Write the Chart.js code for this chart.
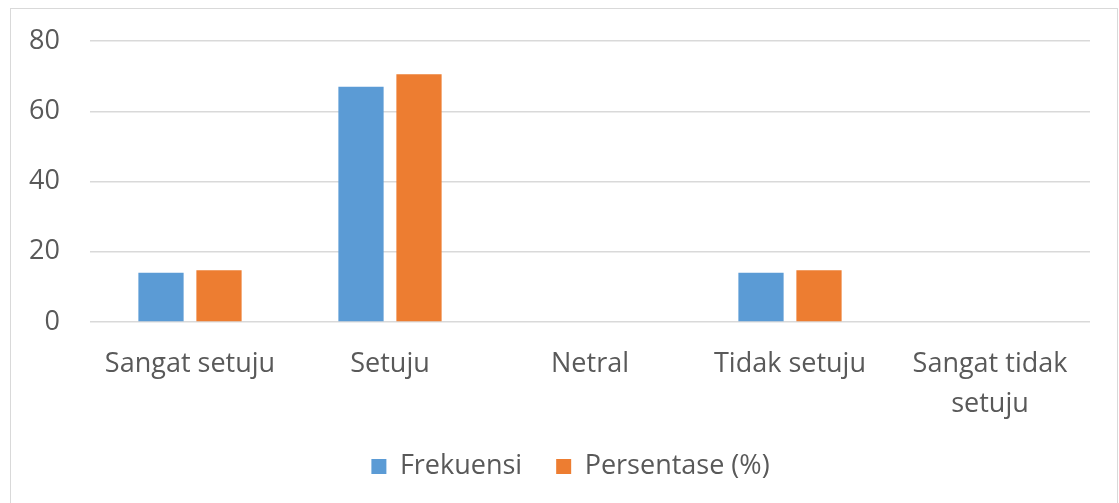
<!DOCTYPE html>
<html>
<head>
<meta charset="utf-8">
<script src="https://cdn.jsdelivr.net/npm/chart.js@4/dist/chart.umd.min.js"></script>
<style>
    html, body { margin: 0; padding: 0; background: #fff; }
    #wrap { position: relative; width: 1119px; height: 503px; overflow: hidden; }
    #frame { position: absolute; left: 10px; top: 8px; width: 1106px; height: 520px; border: 1.5px solid #d9d9d9; }
    #chart { position: absolute; left: 0; top: 0; }
</style>
</head>
<body>
<div id="wrap">
    <div id="frame"></div>
    <canvas id="chart" width="1119" height="503"></canvas>
</div>
<script>
// Data
const categories = ['Sangat setuju', 'Setuju', 'Netral', 'Tidak setuju', ['Sangat tidak', 'setuju']];
const frekuensi = [14, 67, 0, 14, 0];
const persentase = [14.7, 70.5, 0, 14.7, 0];
const yTicks = [0, 20, 40, 60, 80];

document.addEventListener('DOMContentLoaded', function() {
    const ctx = document.getElementById('chart').getContext('2d');
    const textColor = '#595959';
    const fontFamily = '"Open Sans", "Liberation Sans", sans-serif';

    new Chart(ctx, {
        type: 'bar',
        data: {
            labels: categories,
            datasets: [
                {
                    label: 'Frekuensi',
                    data: frekuensi,
                    backgroundColor: '#5b9bd5',
                    categoryPercentage: 0.58,
                    barPercentage: 0.78
                },
                {
                    label: 'Persentase (%)',
                    data: persentase,
                    backgroundColor: '#ed7d31',
                    categoryPercentage: 0.58,
                    barPercentage: 0.78
                }
            ]
        },
        options: {
            responsive: false,
            animation: false,
            layout: {
                padding: { top: 41, right: 0, bottom: 13, left: 22 }
            },
            plugins: {
                legend: {
                    position: 'bottom',
                    labels: {
                        color: textColor,
                        font: { family: fontFamily, size: 27 },
                        boxWidth: 15,
                        boxHeight: 15,
                        padding: 34
                    }
                },
                tooltip: { enabled: false }
            },
            scales: {
                y: {
                    min: 0,
                    max: 80,
                    afterFit: function(scale) {
                        scale.width = 68;
                        scale.paddingTop = 0;
                        scale.paddingBottom = 0;
                    },
                    afterBuildTicks: function(scale) {
                        scale.ticks = yTicks.map(v => ({ value: v }));
                    },
                    border: { display: false },
                    grid: {
                        color: '#d9d9d9',
                        lineWidth: 1.5,
                        drawTicks: false
                    },
                    ticks: {
                        color: textColor,
                        padding: 30,
                        font: { family: fontFamily, size: 27 }
                    }
                },
                // empty spacer on the right so the plot ends where the reference does
                spacer: {
                    type: 'linear',
                    position: 'right',
                    afterFit: function(scale) {
                        scale.width = 29;
                        scale.paddingTop = 0;
                        scale.paddingBottom = 0;
                    },
                    border: { display: false },
                    grid: { display: false, drawTicks: false },
                    ticks: { display: false }
                },
                x: {
                    afterFit: function(scale) { scale.height = 97; },
                    border: { display: false },
                    grid: { display: false, drawTicks: false },
                    ticks: {
                        color: textColor,
                        maxRotation: 0,
                        autoSkip: false,
                        padding: 22,
                        font: { family: fontFamily, size: 27, lineHeight: 1.5 }
                    }
                }
            }
        }
    });
});
</script>
</body>
</html>
